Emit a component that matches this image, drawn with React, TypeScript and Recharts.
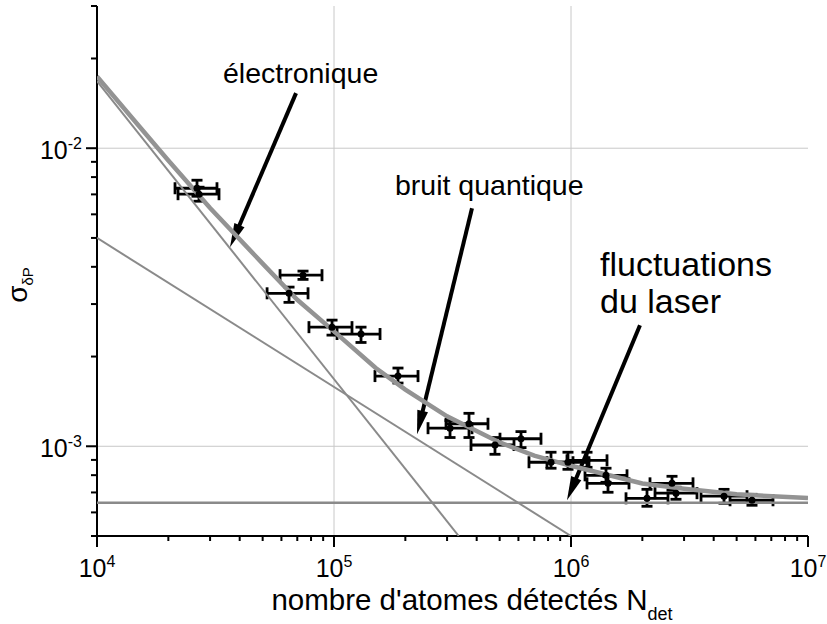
import React from "react";
import { ComposedChart, XAxis, YAxis, Scatter, ErrorBar, ReferenceLine, ReferenceDot } from "recharts";

// measured points: number of detected atoms and sigma, with error ranges
const nDet = [26420, 26940, 74000, 64600, 98100, 130000, 186200, 308700, 371200, 477800, 615200, 823400, 971200, 1168200, 1405000, 1432600, 2092500, 2668000, 2773000, 4421500, 5803000];
const nLow = [21340, 21970, 59200, 52200, 78400, 103000, 148900, 249300, 296900, 378500, 501600, 664800, 791900, 961800, 1145800, 1168200, 1706600, 2154400, 2262000, 3536500, 4687500];
const nHigh = [32080, 32720, 89000, 77700, 119100, 156400, 226200, 382200, 446400, 574700, 747100, 1019500, 1191000, 1418800, 1723200, 1756800, 2566000, 3272000, 3401000, 5529600, 7117000];
const sigma = [0.00734, 0.00701, 0.00375, 0.00326, 0.00251, 0.00238, 0.00172, 0.00115, 0.00119, 0.00101, 0.00106, 0.000884, 0.000884, 0.000897, 0.000799, 0.000751, 0.000669, 0.000751, 0.000696, 0.00068, 0.000659];
const sigmaLow = [0.0069, 0.00664, 0.00363, 0.00304, 0.00236, 0.00223, 0.00163, 0.00107, 0.00107, 0.00094, 0.00099, 0.000844, 0.000837, 0.00085, 0.000757, 0.000701, 0.000629, 0.000712, 0.000664, 0.000644, 0.000634];
const sigmaHigh = [0.00781, 0.0074, 0.00387, 0.00342, 0.00265, 0.00251, 0.00183, 0.00122, 0.00129, 0.00107, 0.00112, 0.000955, 0.000955, 0.000955, 0.000844, 0.000793, 0.000717, 0.000793, 0.000729, 0.000717, 0.00069];

// total noise curve
const fitN = [1e4, 1.5e4, 2e4, 3e4, 5e4, 7e4, 1e5, 1.5e5, 2e5, 3e5, 5e5, 7e5, 1e6, 2e6, 3e6, 5e6, 1e7];
const fitSigma = [0.0174, 0.0119, 0.0091, 0.0063, 0.0041, 0.0031, 0.00243, 0.00183, 0.00155, 0.00126, 0.00103, 0.00093, 0.00086, 0.00075, 0.00072, 0.00069, 0.00067];

// noise contributions
const elecN = [1e4, 336000];
const elecSigma = [0.0168, 0.0005];
const quantN = [1e4, 1e6];
const quantSigma = [0.005, 0.0005];
const laserN = [1e4, 1e7];
const laserSigma = [0.000647, 0.000647];

// axes
const xMajor = [1e4, 1e5, 1e6, 1e7];
const xMinor = [2e4, 3e4, 4e4, 5e4, 6e4, 7e4, 8e4, 9e4, 2e5, 3e5, 4e5, 5e5, 6e5, 7e5, 8e5, 9e5, 2e6, 3e6, 4e6, 5e6, 6e6, 7e6, 8e6, 9e6];
const yMajor = [1e-3, 1e-2];
const yMinor = [6e-4, 7e-4, 8e-4, 9e-4, 2e-3, 3e-3, 4e-3, 5e-3, 6e-3, 7e-3, 8e-3, 9e-3, 2e-2, 3e-2];

// annotations
const noteText = ["électronique", "bruit quantique", "fluctuations", "du laser"];
const noteN = [34000, 180900, 1325600, 1325600];
const noteSigma = [0.01652, 0.006955, 0.003719, 0.002795];
const arrowFromN = [69150, 382200, 1954500];
const arrowFromSigma = [0.0153, 0.00629, 0.002547];
const arrowToN = [36400, 224000, 961800];
const arrowToSigma = [0.004653, 0.001097, 0.000659];

const FONT = "'Liberation Sans', Arial, sans-serif";
const noteSize = [28.5, 28.5, 34, 34];

const points = nDet.map((n, i) => ({
  n,
  s: sigma[i],
  ex: [n - nLow[i], nHigh[i] - n],
  ey: [sigma[i] - sigmaLow[i], sigmaHigh[i] - sigma[i]],
}));
const toSeries = (xs: number[], ys: number[]) => xs.map((n, i) => ({ n, s: ys[i] }));
const fitData = toSeries(fitN, fitSigma);
const elecData = toSeries(elecN, elecSigma);
const quantData = toSeries(quantN, quantSigma);
const laserData = toSeries(laserN, laserSigma);

const xTicks = [...xMajor, ...xMinor].sort((a, b) => a - b);
const yTicks = [5e-4, ...yMajor, ...yMinor].sort((a, b) => a - b);

const exp10 = (v: number) => Math.round(Math.log10(v));
const isMajor = (v: number, arr: number[]) => arr.some((m) => Math.abs(m - v) / m < 1e-6);

const BottomTick = (props: any) => {
  const { x, y, payload } = props;
  const major = isMajor(payload.value, xMajor);
  return (
    <g>
      <line x1={x} y1={y} x2={x} y2={y + (major ? 11 : 5)} stroke="#000" strokeWidth={2} />
      {major && (
        <text x={x} y={y + 41} textAnchor="middle" fontSize={25} fontFamily={FONT} fill="#000">
          <tspan>10</tspan>
          <tspan dy={-10} fontSize={16}>{exp10(payload.value)}</tspan>
        </text>
      )}
    </g>
  );
};

const TopTick = (props: any) => {
  const { x, y, payload } = props;
  const major = isMajor(payload.value, xMajor);
  return <line x1={x} y1={y} x2={x} y2={y + (major ? 10 : 6)} stroke="#000" strokeWidth={2} />;
};

const LeftTick = (props: any) => {
  const { x, y, payload } = props;
  const major = isMajor(payload.value, yMajor);
  return (
    <g>
      <line x1={x} y1={y} x2={x - (major ? 11 : 6)} y2={y} stroke="#000" strokeWidth={2} />
      {major && (
        <text x={x - 15} y={y + 11} textAnchor="end" fontSize={25} fontFamily={FONT} fill="#000">
          <tspan>10</tspan>
          <tspan dy={-10} fontSize={16}>{exp10(payload.value)}</tspan>
        </text>
      )}
    </g>
  );
};

const RightTick = (props: any) => {
  const { x, y, payload } = props;
  const major = isMajor(payload.value, yMajor);
  return <line x1={x} y1={y} x2={x - (major ? 10 : 6)} y2={y} stroke="#000" strokeWidth={2} />;
};

const XTitle = (props: any) => {
  const vb = props.viewBox;
  return (
    <text x={vb.x + vb.width / 2 + 19.5} y={vb.y + 74} textAnchor="middle" fontSize={29.5} fontFamily={FONT} fill="#000">
      <tspan>nombre d'atomes détectés N</tspan>
      <tspan dy={10} fontSize={18}>det</tspan>
    </text>
  );
};

const YTitle = (props: any) => {
  const vb = props.viewBox;
  const cx = vb.x + 27;
  const cy = vb.y + vb.height / 2 + 14;
  return (
    <text x={cx} y={cy} transform={`rotate(-90 ${cx} ${cy})`} textAnchor="middle" fontSize={28} fontFamily={FONT} fill="#000">
      <tspan>σ</tspan>
      <tspan dy={6} fontSize={15}>δP</tspan>
    </text>
  );
};

const Arrow = (props: any) => {
  const { x1, y1, x2, y2 } = props;
  const dx = x2 - x1;
  const dy = y2 - y1;
  const len = Math.sqrt(dx * dx + dy * dy);
  const ux = dx / len;
  const uy = dy / len;
  const headLen = 24;
  const headW = 5.5;
  const bx = x2 - ux * headLen;
  const by = y2 - uy * headLen;
  return (
    <g>
      <line x1={x1} y1={y1} x2={bx + ux * 2} y2={by + uy * 2} stroke="#000" strokeWidth={4} />
      <polygon
        points={`${x2},${y2} ${bx - uy * headW},${by + ux * headW} ${bx + uy * headW},${by - ux * headW}`}
        fill="#000"
      />
    </g>
  );
};

const Marker = (props: any) => <circle cx={props.cx} cy={props.cy} r={3.5} fill="#000" />;
const NoShape = () => <g />;

export default function App() {
  return (
    <div style={{ position: "absolute", left: 0, top: 0, width: 827, height: 624, background: "#fff" }}>
      <ComposedChart width={827} height={624} margin={{ top: 6, right: 19, bottom: 0, left: 0 }}>
        <XAxis
          xAxisId="b"
          dataKey="n"
          type="number"
          scale="log"
          domain={[1e4, 1e7]}
          allowDataOverflow
          ticks={xTicks}
          interval={0}
          tickSize={0}
          tickMargin={0}
          tickLine={false}
          tick={<BottomTick />}
          height={88}
          axisLine={{ stroke: "#000", strokeWidth: 2 }}
          label={(p: any) => <XTitle {...p} />}
        />
        <XAxis
          xAxisId="t"
          orientation="top"
          dataKey="n"
          type="number"
          scale="log"
          domain={[1e4, 1e7]}
          allowDataOverflow
          ticks={xTicks}
          interval={0}
          tickSize={0}
          tickMargin={0}
          tickLine={false}
          tick={<TopTick />}
          height={0}
          axisLine={{ stroke: "#000", strokeWidth: 2 }}
        />
        <YAxis
          yAxisId="l"
          dataKey="s"
          type="number"
          scale="log"
          domain={[5e-4, 3e-2]}
          allowDataOverflow
          ticks={yTicks}
          interval={0}
          tickSize={0}
          tickMargin={0}
          tickLine={false}
          tick={<LeftTick />}
          width={97}
          axisLine={{ stroke: "#000", strokeWidth: 2 }}
          label={(p: any) => <YTitle {...p} />}
        />
        <YAxis
          yAxisId="r"
          orientation="right"
          dataKey="s"
          type="number"
          scale="log"
          domain={[5e-4, 3e-2]}
          allowDataOverflow
          ticks={yTicks}
          interval={0}
          tickSize={0}
          tickMargin={0}
          tickLine={false}
          tick={<RightTick />}
          width={0}
          axisLine={{ stroke: "#000", strokeWidth: 2 }}
        />

        {xMajor.slice(1, -1).map((v) => (
          <ReferenceLine key={`gx${v}`} xAxisId="b" yAxisId="l" x={v} stroke="#c8c8c8" strokeWidth={1} />
        ))}
        {yMajor.map((v) => (
          <ReferenceLine key={`gy${v}`} xAxisId="b" yAxisId="l" y={v} stroke="#c8c8c8" strokeWidth={1} />
        ))}

        <Scatter xAxisId="t" yAxisId="r" data={laserData} line={{ stroke: "#8a8a8a", strokeWidth: 2.5 }} shape={<NoShape />} isAnimationActive={false} />
        <Scatter xAxisId="b" yAxisId="l" data={elecData} line={{ stroke: "#8a8a8a", strokeWidth: 2 }} shape={<NoShape />} isAnimationActive={false} />
        <Scatter xAxisId="b" yAxisId="l" data={quantData} line={{ stroke: "#8a8a8a", strokeWidth: 2 }} shape={<NoShape />} isAnimationActive={false} />
        <Scatter xAxisId="b" yAxisId="l" data={fitData} line={{ stroke: "#939393", strokeWidth: 4.5 }} shape={<NoShape />} isAnimationActive={false} />

        <Scatter xAxisId="b" yAxisId="l" data={points} shape={<Marker />} isAnimationActive={false}>
          <ErrorBar dataKey="ex" direction="x" width={6} stroke="#000" strokeWidth={2.8} isAnimationActive={false} />
          <ErrorBar dataKey="ey" direction="y" width={5.5} stroke="#000" strokeWidth={2.8} isAnimationActive={false} />
        </Scatter>

        {arrowFromN.map((n, i) => (
          <ReferenceLine
            key={`ar${i}`}
            xAxisId="b"
            yAxisId="l"
            segment={[{ x: n, y: arrowFromSigma[i] }, { x: arrowToN[i], y: arrowToSigma[i] }]}
            shape={<Arrow />}
          />
        ))}
        {noteText.map((t, i) => (
          <ReferenceDot
            key={`nt${i}`}
            xAxisId="b"
            yAxisId="l"
            x={noteN[i]}
            y={noteSigma[i]}
            r={0}
            shape={(p: any) => (
              <text x={p.cx} y={p.cy} fontSize={noteSize[i]} fontFamily={FONT} fill="#000">{t}</text>
            )}
          />
        ))}
      </ComposedChart>
    </div>
  );
}
